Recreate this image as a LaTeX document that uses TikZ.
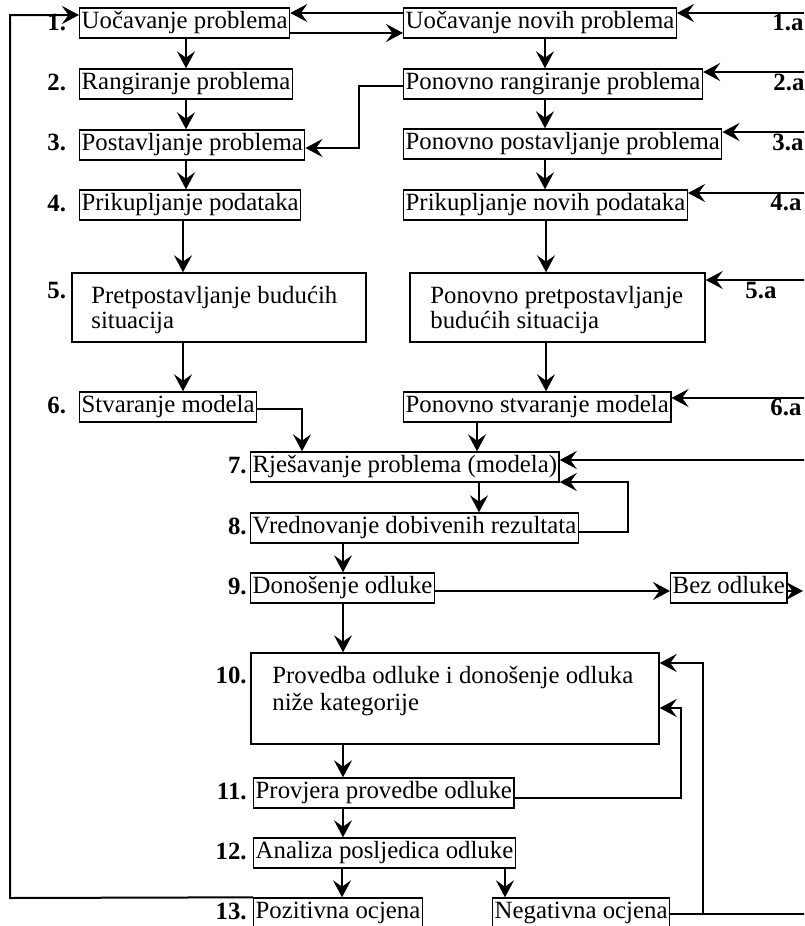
\documentclass[tikz,border=0pt]{standalone}
\usepackage{fontspec}
\setmainfont{Liberation Serif}
\usetikzlibrary{arrows.meta}
\newcommand\myfs{\fontsize{12.4}{12.5}\selectfont}
\begin{document}
\begin{tikzpicture}[x=0.5pt,y=-0.5pt,
  box/.style={draw, line width=0.7pt, inner xsep=1pt, inner ysep=0pt, minimum height=15pt, text height=0.75em, text depth=0.25em, anchor=west, font=\myfs},
  bigbox/.style={draw, line width=0.7pt, inner sep=0pt},
  txt/.style={inner sep=0pt, align=left, font=\myfs},
  num/.style={inner sep=0pt, font=\myfs\bfseries, anchor=base west},
  numr/.style={inner sep=0pt, font=\myfs\bfseries, anchor=base east},
  arr/.style={line width=1pt, -{Stealth[length=8.5pt,width=9pt,inset=3.2pt]}},
  ln/.style={line width=1pt}]
\useasboundingbox (0,0) rectangle (804,926);
\clip (0,0) rectangle (804,926);

% left column
\node[box] (b1) at (79,23) {Uočavanje problema};
\node[box] (b2) at (79,84) {Rangiranje problema};
\node[box] (b3) at (79,145) {Postavljanje problema};
\node[box] (b4) at (79,205) {Prikupljanje podataka};
\node[bigbox, minimum width=147pt, minimum height=34.5pt] (b5) at (219,307.5) {};
\node[txt, anchor=north west] (b5t) at (91,286) {Pretpostavljanje budućih\\situacija};
\node[box] (b6) at (79,407) {Stvaranje modela};

% right column
\node[box] (r1) at (403,23) {Uočavanje novih problema};
\node[box] (r2) at (403,84) {Ponovno rangiranje problema};
\node[box] (r3) at (403,144) {Ponovno postavljanje problema};
\node[box] (r4) at (403,205) {Prikupljanje novih podataka};
\node[bigbox, minimum width=147.5pt, minimum height=34.5pt] (r5) at (557.5,307.5) {};
\node[txt, anchor=north west] (r5t) at (430,286) {Ponovno pretpostavljanje\\budućih situacija};
\node[box] (r6) at (403,407) {Ponovno stvaranje modela};

% middle
\node[box] (b7) at (250,467) {Rješavanje problema (modela)};
\node[box] (b8) at (250,528) {Vrednovanje dobivenih rezultata};
\node[box] (b9) at (250,588) {Donošenje odluke};
\node[box] (bez) at (670,588) {Bez odluke};
\node[bigbox, minimum width=204pt, minimum height=45.5pt] (b10) at (455,698.5) {};
\node[txt, anchor=north west, font=\fontsize{12.4}{13.5}\selectfont] (b10t) at (272,666) {Provedba odluke i donošenje odluka\\niže kategorije};
\node[box] (b11) at (253,793) {Provjera provedbe odluke};
\node[box] (b12) at (253,853) {Analiza posljedica odluke};
\node[box] (b13) at (253,913) {Pozitivna ocjena};
\node[box] (neg) at (492,913) {Negativna ocjena};

% numbers
\node[num] (n1) at (47,30) {1.};
\node[num] (n2) at (47,90) {2.};
\node[num] (n3) at (47,150) {3.};
\node[num] (n4) at (47,211) {4.};
\node[num] (n5) at (47,298) {5.};
\node[num] (n6) at (47,413) {6.};
\node[numr] (n7) at (247,473) {7.};
\node[numr] (n8) at (247,534) {8.};
\node[numr] (n9) at (247,594) {9.};
\node[numr] (n10) at (247,683) {10.};
\node[numr] (n11) at (247,799) {11.};
\node[numr] (n12) at (247,859) {12.};
\node[numr] (n13) at (247,919) {13.};
\node[num] (a1) at (772,30) {1.a};
\node[num] (a2) at (773,90) {2.a};
\node[num] (a3) at (772,150) {3.a};
\node[num] (a4) at (770,210) {4.a};
\node[num] (a5) at (745,298) {5.a};
\node[num] (a6) at (770,415) {6.a};

% edge coordinates
\coordinate (e1) at (806,13);
\coordinate (e2) at (806,72);
\coordinate (e3) at (806,132);
\coordinate (e4) at (806,193);
\coordinate (e5) at (806,280);
\coordinate (e6) at (806,398);
\coordinate (e7) at (806,460);
\coordinate (e9) at (803,591);
\coordinate (e13) at (806,914);
\coordinate (j13) at (703,914);

% connectors
\draw[arr] (r1.west |- 0,13) -- (b1.east |- 0,13);
\draw[arr] (b1.east |- 0,33) -- (r1.west |- 0,33);
\draw[arr] (b1.south -| 186,0) -- (b2.north -| 186,0);
\draw[arr] (b2.south -| 186,0) -- (b3.north -| 186,0);
\draw[arr] (b3.south -| 186,0) -- (b4.north -| 186,0);
\draw[arr] (b4.south -| 183,0) -- (b5.north -| 183,0);
\draw[arr] (b5.south -| 183,0) -- (b6.north -| 183,0);
\draw[arr] (r2.west |- 0,86) -- (359,86) -- (359,148) -- (b3.east |- 0,148);

\draw[arr] (r1.south -| 545,0) -- (r2.north -| 545,0);
\draw[arr] (r2.south -| 545,0) -- (r3.north -| 545,0);
\draw[arr] (r3.south -| 545,0) -- (r4.north -| 545,0);
\draw[arr] (r4.south -| 546,0) -- (r5.north -| 546,0);
\draw[arr] (r5.south -| 546,0) -- (r6.north -| 546,0);

\draw[arr] (e1) -- (r1.east |- e1);
\draw[arr] (e2) -- (r2.east |- e2);
\draw[arr] (e3) -- (r3.east |- e3);
\draw[arr] (e4) -- (r4.east |- e4);
\draw[arr] (e5) -- (r5.east |- e5);
\draw[arr] (e6) -- (r6.east |- e6);

\draw[arr] (b6.east |- 0,409) -| (b7.north -| 302,0);
\draw[arr] (r6.south -| 477,0) -- (b7.north -| 477,0);
\draw[arr] (e7) -- (b7.east |- e7);
\draw[arr] (b8.east |- 0,532) -| (628,482) -- (b7.east |- 0,482);
\draw[arr] (b7.south -| 479,0) -- (b8.north -| 479,0);
\draw[arr] (b8.south -| 343,0) -- (b9.north -| 343,0);
\draw[arr] (b9.east |- 0,591) -- (bez.west |- 0,591);
\draw[arr] (bez.east |- e9) -- (e9);
\draw[arr] (b9.south -| 343,0) -- (b10.north -| 343,0);
\draw[arr] (b10.south -| 343,0) -- (b11.north -| 343,0);
\draw[arr] (b11.south -| 343,0) -- (b12.north -| 343,0);
\draw[arr] (b12.south -| 342,0) -- (b13.north -| 342,0);
\draw[arr] (b12.south -| 505,0) -- (neg.north -| 505,0);
\draw[arr] (b11.east |- 0,798) -| (681,708) -- (b10.east |- 0,708);
\draw[ln] (neg.east |- e13) -- (e13);
\draw[arr] (j13) -- (703,663) -- (b10.east |- 0,663);
\draw[arr] (b13.north west) -- (10,898) -- (10,15) -- (b1.west |- 0,15);
\end{tikzpicture}
\end{document}
